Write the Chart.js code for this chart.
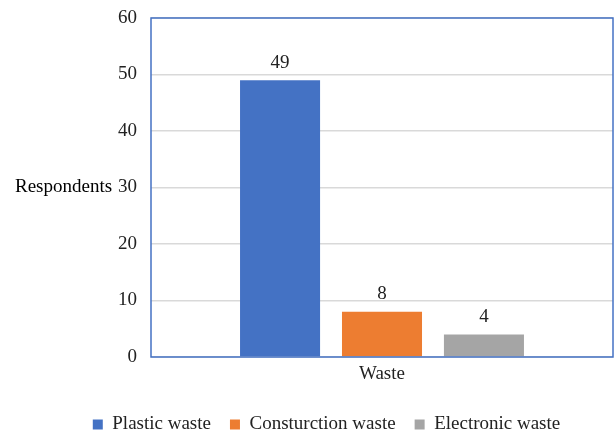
<!DOCTYPE html>
<html>
<head>
<meta charset="utf-8">
<script src="https://cdn.jsdelivr.net/npm/chart.js@4"></script>
<style>
  html, body { margin: 0; padding: 0; background: #fff; }
  #wrap { width: 616px; height: 432px; position: relative; }
</style>
</head>
<body>
<div id="wrap"><canvas id="chart"></canvas></div>
<script>
const categories = ['Waste'];
const seriesNames = ['Plastic waste', 'Consturction waste', 'Electronic waste'];
const seriesValues = [[49], [8], [4]];
const seriesColors = ['#4472C4', '#ED7D31', '#A5A5A5'];
const yTicks = [0, 10, 20, 30, 40, 50, 60];

const FONT = '"Liberation Serif", "Times New Roman", serif';
const SIZE = 19;
Chart.defaults.font.family = FONT;
Chart.defaults.color = '#000';

// value labels above each bar, plot frame, horizontal axis title
const extras = {
    id: 'extras',
    afterDatasetsDraw(chart) {
        const { ctx, chartArea } = chart;
        ctx.save();
        ctx.font = `${SIZE}px ${FONT}`;
        ctx.fillStyle = '#222';
        ctx.textAlign = 'center';
        ctx.textBaseline = 'bottom';
        chart.data.datasets.forEach((ds, i) => {
            chart.getDatasetMeta(i).data.forEach((bar, j) => {
                ctx.fillText(String(ds.data[j]), bar.x, bar.y - 8);
            });
        });

        ctx.strokeStyle = '#4472C4';
        ctx.lineWidth = 1.5;
        ctx.strokeRect(chartArea.left, chartArea.top, chartArea.right - chartArea.left, chartArea.bottom - chartArea.top);

        const y = chart.scales.y;
        ctx.textAlign = 'left';
        ctx.textBaseline = 'middle';
        ctx.fillStyle = '#000';
        ctx.fillText('Respondents', 15, y.getPixelForValue(30));
        ctx.restore();
    },
};

new Chart(document.getElementById('chart'), {
    type: 'bar',
    data: {
        labels: categories,
        datasets: seriesNames.map((name, i) => ({
            label: name,
            data: seriesValues[i],
            backgroundColor: seriesColors[i],
            categoryPercentage: 0.662,
            barPercentage: 0.785,
        })),
    },
    options: {
        responsive: true,
        maintainAspectRatio: false,
        animation: false,
        layout: { padding: { top: 18, right: 3, left: 40, bottom: -12 } },
        scales: {
            x: {
                afterFit(scale) {
                    scale.height = 39;
                },
                grid: { display: false, drawTicks: false },
                border: { display: false },
                ticks: { padding: 6, font: { size: SIZE }, color: '#222' },
            },
            y: {
                min: 0,
                max: 60,
                afterBuildTicks(scale) {
                    scale.ticks = yTicks.map((v) => ({ value: v }));
                },
                afterFit(scale) {
                    scale.width = 111;
                    scale.paddingTop = 0;
                    scale.paddingBottom = 0;
                },
                grid: { color: '#D9D9D9', lineWidth: 1.5, drawTicks: false },
                border: { display: false },
                ticks: { padding: 14, font: { size: SIZE }, color: '#222' },
            },
        },
        plugins: {
            legend: {
                position: 'bottom',
                labels: {
                    boxWidth: 10,
                    boxHeight: 10,
                    padding: 19,
                    font: { size: SIZE },
                    color: '#222',
                },
            },
            tooltip: { enabled: false },
        },
    },
    plugins: [extras],
});
</script>
</body>
</html>
